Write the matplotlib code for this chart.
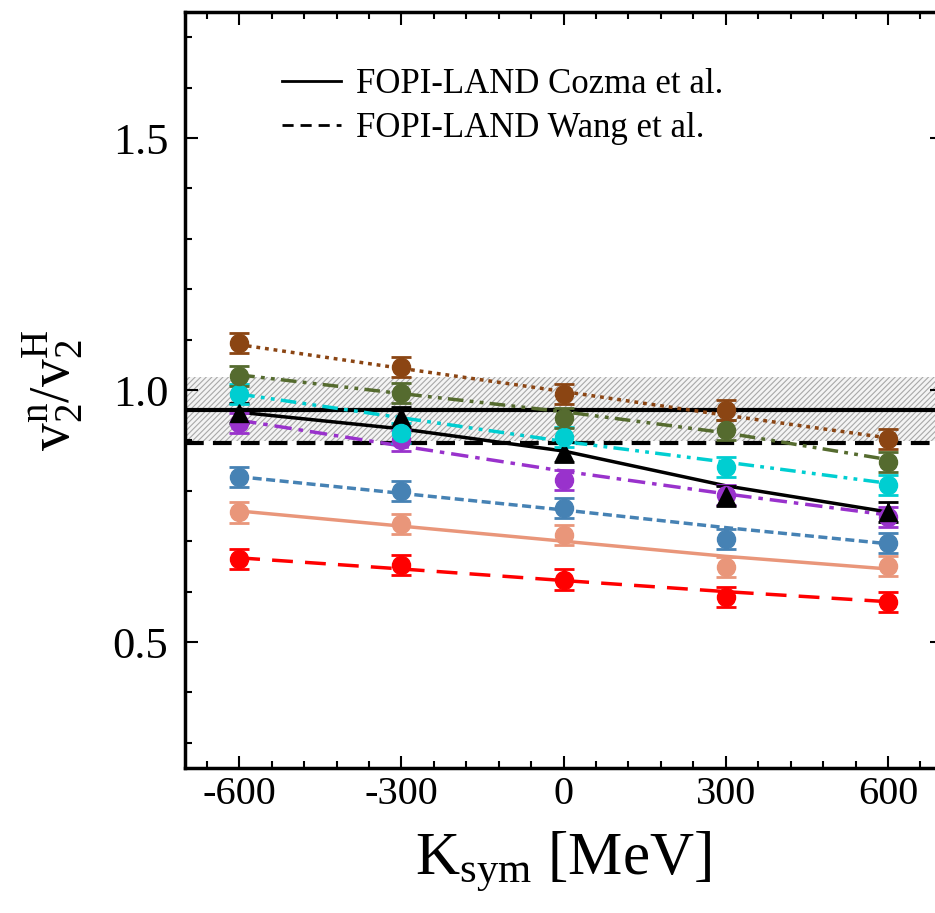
#!/usr/bin/env python3
import matplotlib
matplotlib.use("Agg")
import matplotlib.pyplot as plt
from matplotlib.ticker import MultipleLocator
from matplotlib.lines import Line2D

plt.rcParams['font.family'] = ['Liberation Serif', 'DejaVu Serif']
plt.rcParams['mathtext.default'] = 'regular'
plt.rcParams['hatch.linewidth'] = 0.8

# K_sym values [MeV]
ksym = [-600, -300, 0, 300, 600]

# v2n/v2H
brown_pts = [1.093, 1.046, 0.992, 0.960, 0.903]
olive_pts = [1.028, 0.994, 0.944, 0.921, 0.857]
cyan_pts = [0.992, 0.915, 0.907, 0.847, 0.812]
black_pts = [0.954, 0.946, 0.877, 0.789, 0.758]
purple_pts = [0.934, 0.900, 0.821, 0.791, 0.748]
blue_pts = [0.827, 0.800, 0.766, 0.704, 0.697]
salmon_pts = [0.757, 0.735, 0.712, 0.649, 0.651]
red_pts = [0.665, 0.653, 0.624, 0.590, 0.580]

# fitted curves, read at the same K_sym values
brown_fit = [1.090, 1.043, 0.997, 0.950, 0.905]
olive_fit = [1.030, 0.993, 0.957, 0.915, 0.862]
cyan_fit = [0.992, 0.945, 0.898, 0.857, 0.815]
black_fit = [0.956, 0.923, 0.879, 0.810, 0.758]
purple_fit = [0.940, 0.889, 0.839, 0.794, 0.752]
blue_fit = [0.828, 0.795, 0.762, 0.727, 0.695]
salmon_fit = [0.760, 0.730, 0.700, 0.670, 0.645]
red_fit = [0.667, 0.645, 0.622, 0.600, 0.580]

point_err = 0.02

# FOPI-LAND constraints
cozma_value = 0.96
cozma_band = (0.899, 1.026)
wang_value = 0.895

# (points, fit, color, marker, dashes)
series = [
    (red_pts, red_fit, '#ff0000', 'o', (6, 3.5)),
    (salmon_pts, salmon_fit, '#e9967a', 'o', None),
    (blue_pts, blue_fit, '#4682b4', 'o', (2.6, 1.3)),
    (purple_pts, purple_fit, '#9932cc', 'o', (5, 2, 1.3, 2)),
    (black_pts, black_fit, 'black', '^', None),
    (cyan_pts, cyan_fit, '#00ced1', 'o', (4.5, 1.8, 1.1, 1.8, 1.1, 1.8)),
    (olive_pts, olive_fit, '#556b2f', 'o', (4.5, 1.8, 1.1, 1.8, 1.1, 1.8)),
    (brown_pts, brown_fit, '#8b4513', 'o', (1.1, 1.4)),
]


def main():
    fig = plt.figure(figsize=(9.35, 9.13), dpi=100)
    ax = fig.add_axes([0.198, 0.1588, 0.8095, 0.828])

    ax.fill_between([-700, 700], cozma_band[0], cozma_band[1],
                    facecolor='#f4f4f4', edgecolor='#a8a8a8', hatch='//////',
                    linewidth=0, zorder=0)
    ax.axhline(cozma_value, color='black', lw=3, zorder=1)
    ax.axhline(wang_value, color='black', lw=3, dashes=(4.5, 2.2), zorder=1)

    for pts, fit, color, marker, dashes in series:
        line, = ax.plot(ksym, fit, color=color, lw=2.5, zorder=2)
        if dashes is not None:
            line.set_dashes(dashes)
        ax.errorbar(ksym, pts, yerr=point_err, fmt=marker, color=color,
                    ms=13, capsize=7, elinewidth=2, capthick=2, zorder=3)

    ax.set_xlim(-700, 700)
    ax.set_ylim(0.25, 1.75)
    ax.xaxis.set_major_locator(MultipleLocator(300))
    ax.xaxis.set_minor_locator(MultipleLocator(60))
    ax.yaxis.set_major_locator(MultipleLocator(0.5))
    ax.yaxis.set_minor_locator(MultipleLocator(0.1))
    ax.set_xticks(ksym)
    ax.set_xticklabels(['-600', '-300', '0', '300', '600'])
    ax.set_yticks([0.5, 1.0, 1.5])
    ax.set_yticklabels(['0.5', '1.0', '1.5'])

    ax.tick_params(which='both', direction='in', top=True, right=True, width=1.5)
    ax.tick_params(which='major', length=9)
    ax.tick_params(which='minor', length=5)
    ax.tick_params(axis='x', labelsize=29, pad=6)
    ax.tick_params(axis='y', labelsize=32, pad=12)
    for sp in ax.spines.values():
        sp.set_linewidth(2.5)

    ax.set_xlabel('K$_{sym}$ [MeV]', fontsize=44, labelpad=12)
    ax.set_ylabel('v$_2^n$/v$_2^H$', fontsize=40, labelpad=20)

    handles = [Line2D([], [], color='black', lw=2),
               Line2D([], [], color='black', lw=2, dashes=(4, 2.5))]
    ax.legend(handles, ['FOPI-LAND Cozma et al.', 'FOPI-LAND Wang et al.'],
              loc='upper left', bbox_to_anchor=(0.1, 0.953), frameon=False,
              fontsize=25, handlelength=1.7, handletextpad=0.45,
              labelspacing=0.3, borderaxespad=0.2)

    fig.savefig('out.png', dpi=100)


if __name__ == "__main__":
    main()
